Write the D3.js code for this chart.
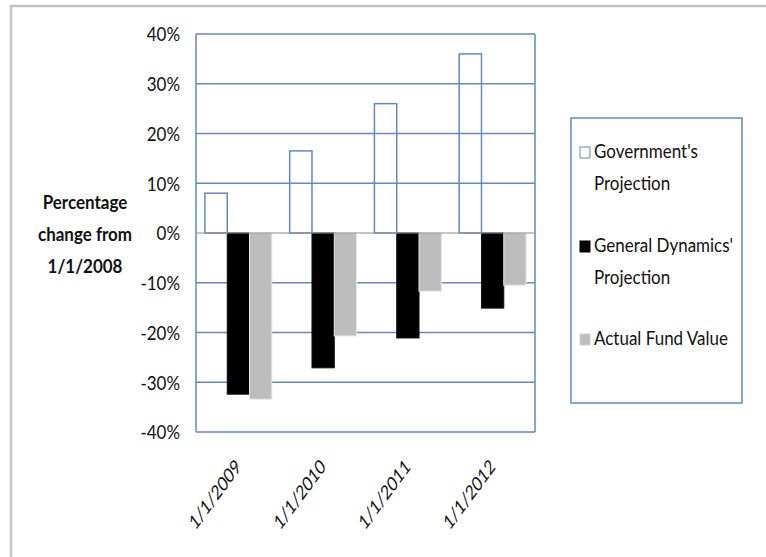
<!DOCTYPE html>
<html>
<head>
<meta charset="utf-8">
<script src="https://cdn.jsdelivr.net/npm/d3@7"></script>
<style>
  body { margin: 0; background: #fff; }
  text { font-family: Lato, "Liberation Sans", Arial, sans-serif; fill: #111; }
</style>
</head>
<body>
<script>
const categories = ['1/1/2009', '1/1/2010', '1/1/2011', '1/1/2012'];
const seriesNames = ["Government's Projection", "General Dynamics' Projection", 'Actual Fund Value'];
const government = [8, 16.5, 26, 36];
const generalDynamics = [-32.4, -27.1, -21.1, -15.1];
const actualFund = [-33.4, -20.7, -11.7, -10.5];
const yTicks = [40, 30, 20, 10, 0, -10, -20, -30, -40];

const width = 766, height = 557;
const blue = '#5f89c9';
const stretch = 1.15; // text in the picture is a bit taller than it is wide

const svg = d3.select('body').append('svg')
  .attr('width', width)
  .attr('height', height);

// outer frame (only left and top edges visible)
svg.append('path')
  .attr('d', 'M11,557 V6 H766')
  .attr('fill', 'none')
  .attr('stroke', '#c4c4c4')
  .attr('stroke-width', 2.5);

// group of three bars inside each category
const x0 = d3.scaleBand().domain(categories).range([196, 535]);
const xs = d3.scaleBand().domain(d3.range(3)).range([0, x0.bandwidth()]).paddingOuter(0.4);
const y = d3.scaleLinear().domain([-40, 40]).range([432, 34]);

// gridlines
svg.append('g').selectAll('line').data(yTicks.filter(d => d !== 0)).join('line')
  .attr('x1', 196).attr('x2', 535)
  .attr('y1', d => y(d)).attr('y2', d => y(d))
  .attr('stroke', blue).attr('stroke-width', 1.5);

// plot borders
svg.append('line').attr('x1', 196).attr('x2', 196).attr('y1', y(40)).attr('y2', y(-40))
  .attr('stroke', blue).attr('stroke-width', 1.5);
svg.append('line').attr('x1', 535).attr('x2', 535).attr('y1', y(40)).attr('y2', y(-40))
  .attr('stroke', blue).attr('stroke-width', 1.5);

const bw = xs.bandwidth();

// bars
const series = [
  { vals: generalDynamics, idx: 1, fill: '#000', stroke: '#111' },
  { vals: actualFund, idx: 2, fill: '#bdbdbd', stroke: '#e6e6e6' }
];
series.forEach(s => {
  svg.append('g').selectAll('rect').data(s.vals).join('rect')
    .attr('x', (d, i) => x0(categories[i]) + xs(s.idx))
    .attr('width', bw)
    .attr('y', d => y(Math.max(0, d)))
    .attr('height', d => Math.abs(y(d) - y(0)))
    .attr('fill', s.fill)
    .attr('stroke', s.stroke)
    .attr('stroke-width', 1);
});

svg.append('g').selectAll('rect').data(government).join('rect')
  .attr('x', (d, i) => x0(categories[i]) + xs(0))
  .attr('width', bw)
  .attr('y', d => y(d))
  .attr('height', d => y(0) - y(d))
  .attr('fill', 'none')
  .attr('stroke', blue)
  .attr('stroke-width', 1.5);

// zero line
svg.append('line').attr('x1', 196).attr('x2', 535).attr('y1', y(0)).attr('y2', y(0))
  .attr('stroke', '#8c8c8c').attr('stroke-width', 1.2);

// y axis labels
const yAxis = d3.axisLeft(y).tickValues(yTicks).tickSize(0).tickPadding(16)
  .tickFormat(d => d + '%');
const ga = svg.append('g').attr('transform', 'translate(196,0)').call(yAxis);
ga.select('.domain').remove();
ga.selectAll('text')
  .style('font-size', '17px').style('font-family', 'Lato, sans-serif')
  .attr('dy', '0.35em')
  .attr('transform', `scale(1,${stretch})`);

// x axis labels
categories.forEach(c => {
  const cx = x0(c) + x0.bandwidth() / 2 + 3.5;
  svg.append('text')
    .attr('transform', `translate(${cx},${468}) scale(1,1.35) rotate(-45)`)
    .attr('text-anchor', 'end')
    .style('font-size', '15px')
    .text(c);
});

// y title
['Percentage', 'change from', '1/1/2008'].forEach((t, i) => {
  svg.append('text')
    .attr('transform', `translate(85,${209 + i * 32}) scale(1,${stretch})`)
    .attr('text-anchor', 'middle')
    .style('font-size', '17px')
    .style('font-weight', 'bold')
    .text(t);
});

// legend
svg.append('rect').attr('x', 571).attr('y', 118).attr('width', 171).attr('height', 285)
  .attr('fill', 'none').attr('stroke', blue).attr('stroke-width', 1.5);

const legend = [
  { lines: ["Government's", 'Projection'], y: 158, fill: '#fff', stroke: blue },
  { lines: ['General Dynamics\'', 'Projection'], y: 252, fill: '#000', stroke: '#000' },
  { lines: ['Actual Fund Value'], y: 345, fill: '#bdbdbd', stroke: '#d0d0d0' }
];
legend.forEach(l => {
  svg.append('rect').attr('x', 580).attr('y', l.y - 11).attr('width', 10).attr('height', 11)
    .attr('fill', l.fill).attr('stroke', l.stroke).attr('stroke-width', 1);
  l.lines.forEach((t, i) => {
    svg.append('text')
      .attr('transform', `translate(594,${l.y + i * 32}) scale(1,${stretch})`)
      .style('font-size', '17px')
      .text(t);
  });
});
</script>
</body>
</html>
